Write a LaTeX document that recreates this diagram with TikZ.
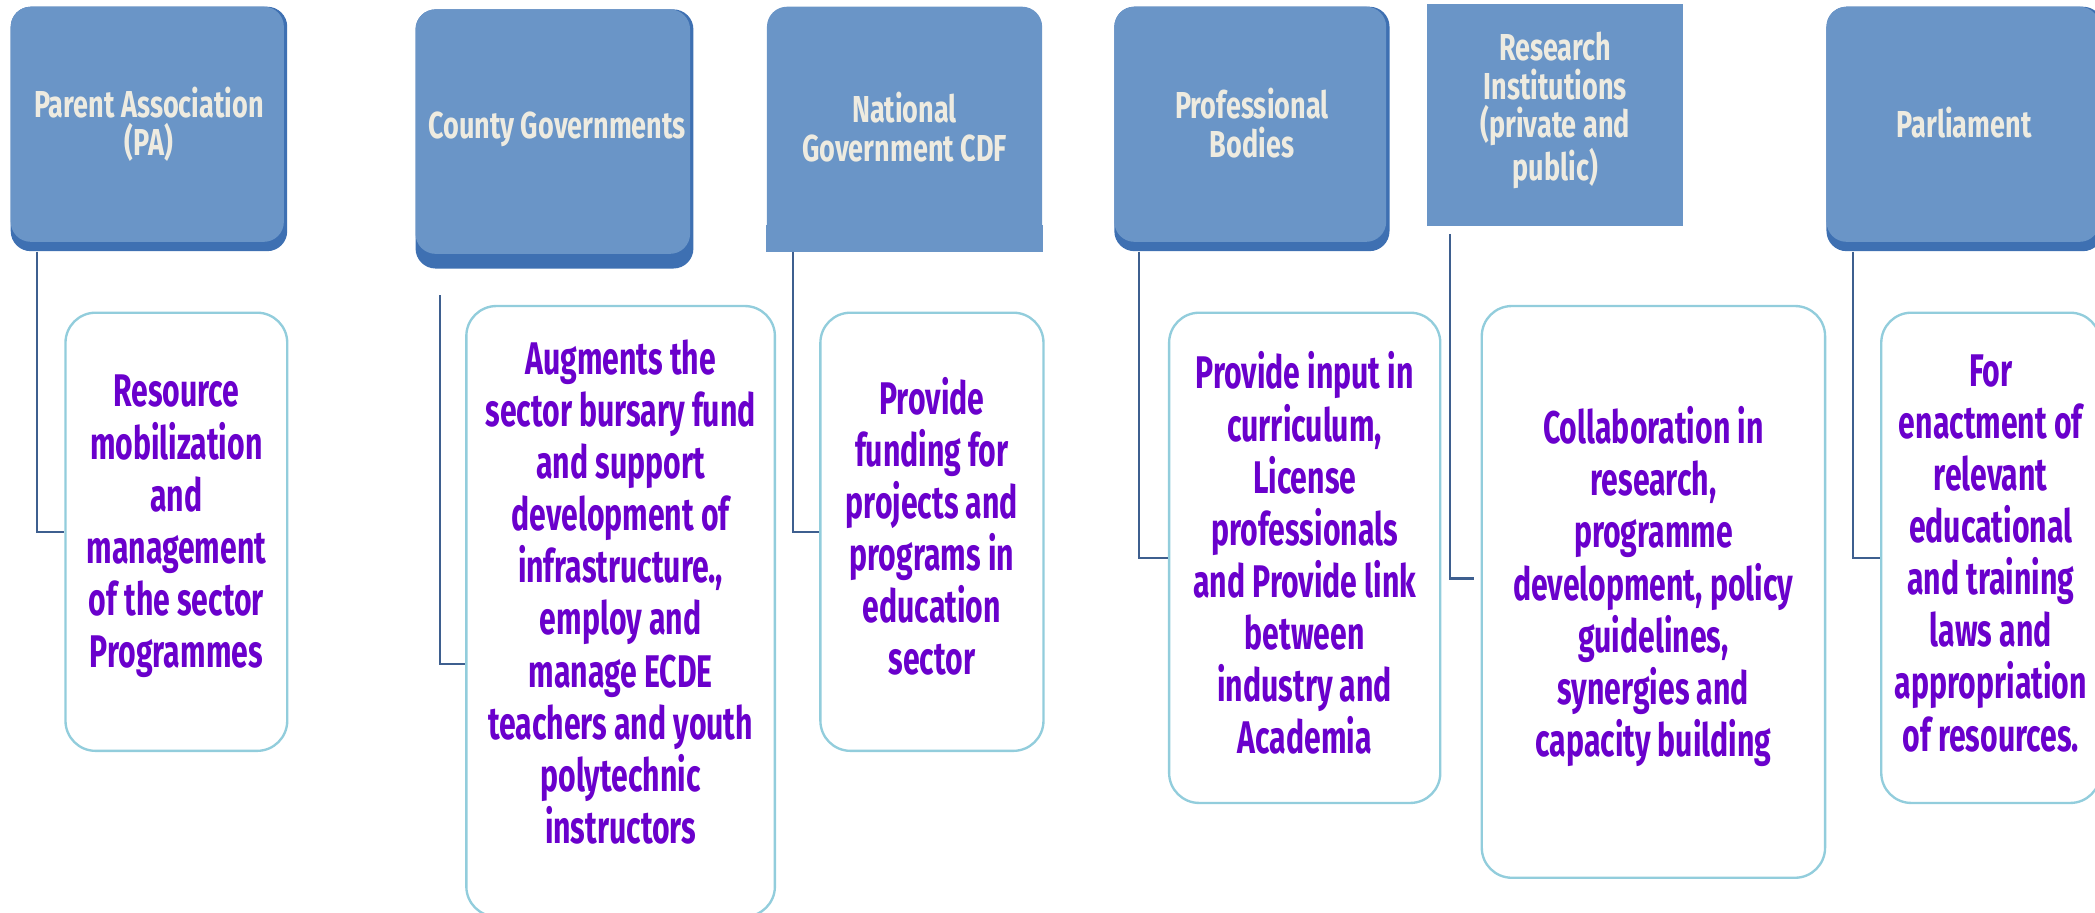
\documentclass[tikz,border=0pt]{standalone}
\usepackage{fontspec}
\newfontfamily\topfont{Fira Sans}[FakeStretch=0.72]
\newfontfamily\botfont{Fira Sans}[FakeStretch=0.66]
\definecolor{toplight}{HTML}{6A95C7}
\definecolor{topdark}{HTML}{3E70B2}
\definecolor{toptext}{HTML}{EEEBE0}
\definecolor{bottext}{HTML}{6A00CC}
\definecolor{botline}{HTML}{92CDDC}
\definecolor{connline}{HTML}{3E5F8F}
\tikzset{
  topbox/.style={rounded corners=0.3cm, fill=topdark, draw=none, inner sep=0pt,
    path picture={\fill[toplight] (path picture bounding box.north west) rectangle ([xshift=-0.05cm,yshift=#1]path picture bounding box.south east);}},
  topbox/.default=0.14cm,
  plainbox/.style={fill=toplight, draw=none, inner sep=0pt},
  toplabel/.style={align=center, text=toptext, inner sep=0pt, font=\topfont\bfseries\fontsize{16pt}{16.4pt}\selectfont},
  botbox/.style={rounded corners=0.45cm, draw=botline, line width=1pt, fill=white, inner sep=0pt},
  botlabel/.style={align=center, text=bottext, inner sep=0pt, font=\botfont\bfseries\fontsize{19.5pt}{22.2pt}\selectfont},
  conn/.style={draw=connline, line width=0.9pt}
}
\begin{document}
\begin{tikzpicture}[x=0.02cm,y=-0.02cm]
\useasboundingbox (0,0) rectangle (1568,683);
\clip (0,0) rectangle (1568,683);
% top boxes
\node[topbox, minimum width=4.14cm, minimum height=3.66cm] (pa) at (111.5,96.5) {};
\node[topbox=0.22cm, minimum width=4.16cm, minimum height=3.88cm] (cg) at (415,104) {};
\node[plainbox, rounded corners=0.3cm, minimum width=4.12cm, minimum height=3.66cm] (ng) at (677,96.5) {};
\fill[toplight] ([yshift=0.4cm]ng.south west) rectangle (ng.south east);
\node[topbox, minimum width=4.12cm, minimum height=3.66cm] (pb) at (937,96.5) {};
\node[plainbox, minimum width=3.84cm, minimum height=3.32cm] (ri) at (1164,86) {};
\node[topbox, minimum width=4.14cm, minimum height=3.66cm] (pl) at (1470.5,96.5) {};
\node[toplabel] (pat) at (111.5,93) {Parent Association\\(PA)};
\node[toplabel] (cgt) at (417,97) {County Governments};
\node[toplabel] (ngt) at (677,95) {National\\Government CDF};
\node[toplabel] (pbt) at (937,92) {Professional\\Bodies};
\node[toplabel] (rit) at (1164,83) {Research\\Institutions\\(private and\\public)};
\node[toplabel] (plt) at (1470,92) {Parliament};
% bottom boxes
\node[botbox, minimum width=3.32cm, minimum height=6.56cm] (b1) at (132,398) {};
\node[botbox, minimum width=4.62cm, minimum height=9.14cm] (b2) at (464.5,457.5) {};
\node[botbox, minimum width=3.34cm, minimum height=6.56cm] (b3) at (697.5,398) {};
\node[botbox, minimum width=4.06cm, minimum height=7.34cm] (b4) at (976.5,417.5) {};
\node[botbox, minimum width=5.14cm, minimum height=8.56cm] (b5) at (1237.5,443) {};
\node[botbox, minimum width=3.28cm, minimum height=7.34cm] (b6) at (1490,417.5) {};
\node[botlabel] (b1t) at (132,394) {Resource\\mobilization\\and\\management\\of the sector\\Programmes};
\node[botlabel] (b2t) at (464.5,443) {Augments the\\sector bursary fund\\and support\\development of\\infrastructure.,\\employ and\\manage ECDE\\teachers and youth\\polytechnic\\instructors};
\node[botlabel] (b3t) at (697.5,394) {Provide\\funding for\\projects and\\programs in\\education\\sector};
\node[botlabel] (b4t) at (976.5,414) {Provide input in\\curriculum,\\License\\professionals\\and Provide link\\between\\industry and\\Academia};
\node[botlabel] (b5t) at (1237.5,439) {Collaboration in\\research,\\programme\\development, policy\\guidelines,\\synergies and\\capacity building};
\node[botlabel] (b6t) at (1490,414) {For\\enactment of\\relevant\\educational\\and training\\laws and\\appropriation\\of resources.};
% connectors
\coordinate (c2) at (329,221);
\coordinate (c5) at (1085,175);
\draw[conn] ([xshift=0.4cm]pa.south west) |- (b1.west);
\draw[conn] (c2) |- ([yshift=-0.79cm]b2.west);
\draw[conn] ([xshift=0.4cm]ng.south west) |- (b3.west);
\draw[conn] ([xshift=0.38cm]pb.south west) |- (b4.west);
\draw[conn] (c5) |- ([xshift=-0.1cm,yshift=0.2cm]b5.west);
\draw[conn] ([xshift=0.4cm]pl.south west) |- (b6.west);
\end{tikzpicture}
\end{document}
